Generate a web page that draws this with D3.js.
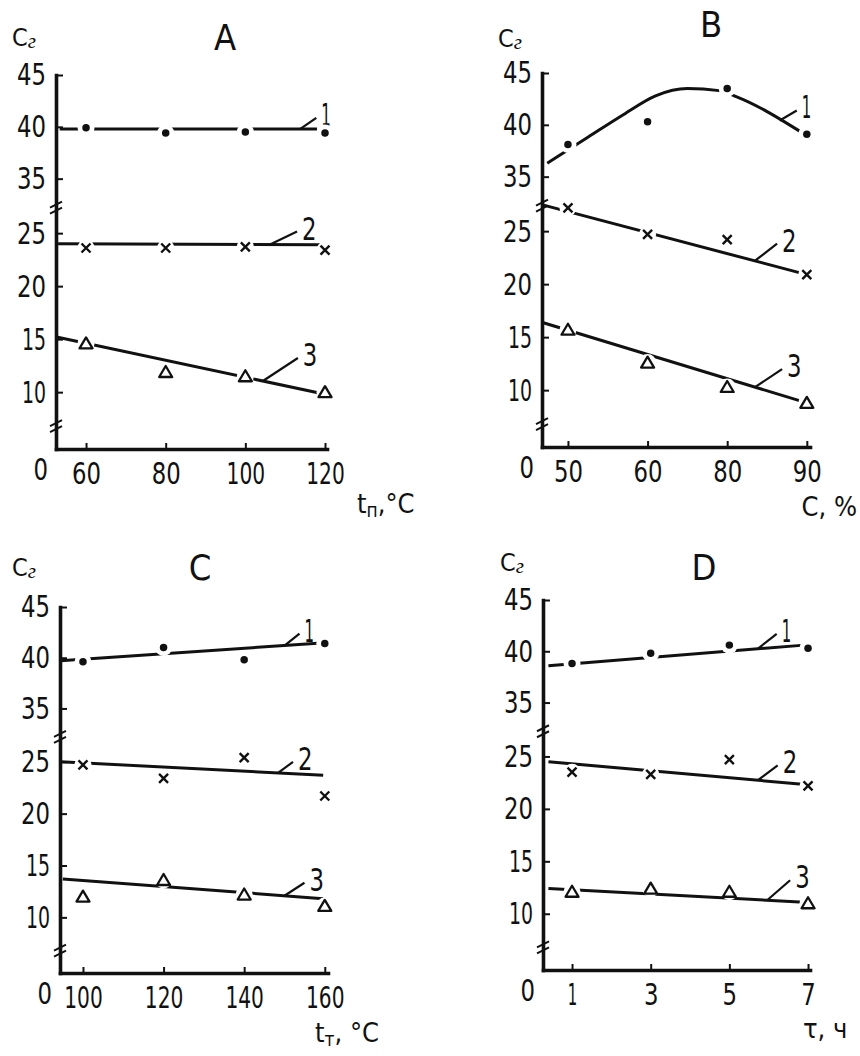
<!DOCTYPE html>
<html>
<head>
<meta charset="utf-8">
<script src="https://cdn.jsdelivr.net/npm/d3@7"></script>
<style>
  body { margin: 0; background: #fff; }
  svg text { font-family: "Liberation Sans Narrow", "DejaVu Sans Condensed", "DejaVu Sans", sans-serif; fill: #111; }
</style>
</head>
<body>
<svg id="fig" width="860" height="1056"></svg>
<script>
// y axis: 0, (break), 10..25, (break), 35..45
const yTicks = [10, 15, 20, 25, 35, 40, 45];
const yBreakDomain = [0, 7, 27.5, 32.3, 45];
const yBreakFrac = [0, 0.067, 0.648, 0.648, 1];

// x categories (equally spaced in the original)
const xTicksA = ["60", "80", "100", "120"];
const xTicksB = ["50", "60", "80", "90"];
const xTicksC = ["100", "120", "140", "160"];
const xTicksD = ["1", "3", "5", "7"];

// measured points: 1 = dots, 2 = crosses, 3 = triangles
const a1 = [39.9, 39.4, 39.5, 39.4];
const a2 = [23.6, 23.6, 23.7, 23.4];
const a3 = [14.6, 11.9, 11.5, 10.0];
const b1 = [38.1, 40.3, 43.5, 39.1];
const b2 = [27.2, 24.7, 24.2, 20.9];
const b3 = [15.7, 12.6, 10.3, 8.8];
const c1 = [39.6, 41.0, 39.8, 41.4];
const c2 = [24.7, 23.4, 25.4, 21.7];
const c3 = [12.0, 13.6, 12.2, 11.1];
const d1 = [38.8, 39.8, 40.6, 40.3];
const d2 = [23.5, 23.3, 24.7, 22.2];
const d3v = [12.1, 12.4, 12.1, 11.0];

// drawn trend lines, [category index, value]
const fitA1 = [[-0.33, 39.8], [2.9, 39.8]];
const fitA2 = [[-0.35, 24.0], [2.95, 23.9]];
const fitA3 = [[-0.37, 15.2], [3.0, 9.8]];
const fitB1 = [[-0.26, 36.3], [0.25, 38.8], [0.7, 41.0], [1.1, 42.8], [1.5, 43.5], [1.9, 43.3], [2.12, 42.7], [2.95, 39.2]];
const fitB2 = [[-0.33, 27.6], [3.0, 20.9]];
const fitB3 = [[-0.33, 16.4], [3.0, 8.8]];
const fitC1 = [[-0.28, 39.7], [3.05, 41.5]];
const fitC2 = [[-0.28, 25.0], [2.98, 23.7]];
const fitC3 = [[-0.25, 13.7], [2.98, 11.8]];
const fitD1 = [[-0.3, 38.6], [2.95, 40.6]];
const fitD2 = [[-0.3, 24.5], [3.0, 22.3]];
const fitD3 = [[-0.3, 12.4], [2.95, 11.1]];

const seriesNames = ["1", "2", "3"];
const markerKinds = ["dot", "cross", "tri"];

const panels = [
  { title: "A", ticks: xTicksA, series: [a1, a2, a3], fits: [fitA1, fitA2, fitA3],
    x0: 56, xEnd: 327, iStart: -0.377, iEnd: 3.025, y0: 449, span: 374,
    titlePos: [225, 50], cPos: [12, 46], xLabel: { parts: [["t", 0], ["п", 1], [",°C", 0]], x: 357, y: 513, anchor: "start" },
    leaders: [[2.69, 16, -11], [2.31, 27, -13], [2.22, 35, -23]] },
  { title: "B", ticks: xTicksB, series: [b1, b2, b3], fits: [fitB1, fitB2, fitB3],
    x0: 542, xEnd: 810, iStart: -0.326, iEnd: 3.04, y0: 447, span: 374,
    titlePos: [711, 37], cPos: [498, 47], xLabel: { parts: [["C, %", 0]], x: 857, y: 516, anchor: "end" },
    leaders: [[2.66, 17, -10], [2.35, 22, -17], [2.35, 27, -18]] },
  { title: "C", ticks: xTicksC, series: [c1, c2, c3], fits: [fitC1, fitC2, fitC3],
    x0: 60, xEnd: 328, iStart: -0.285, iEnd: 3.04, y0: 973, span: 366,
    titlePos: [200, 580], cPos: [12, 576], xLabel: { parts: [["t", 0], ["т", 1], [", °C", 0]], x: 315, y: 1042, anchor: "start" },
    leaders: [[2.5, 15, -12], [2.42, 15, -11], [2.5, 20, -13]] },
  { title: "D", ticks: xTicksD, series: [d1, d2, d3v], fits: [fitD1, fitD2, fitD3],
    x0: 543, xEnd: 810, iStart: -0.369, iEnd: 3.025, y0: 970, span: 370,
    titlePos: [704, 580], cPos: [500, 571], xLabel: { parts: [["τ, ч", 0]], x: 803, y: 1038, anchor: "start" },
    leaders: [[2.36, 19, -15], [2.36, 20, -15], [2.48, 23, -20]] }
];

// narrow lettering like the drafted original
const glyphW = (s) => Array.from(s).reduce((w, ch) => w + (ch === "1" ? 9.5 : 14.5), 0);
function squeeze(sel) {
  sel.each(function () {
    const t = this.textContent;
    d3.select(this).attr("textLength", glyphW(t)).attr("lengthAdjust", "spacingAndGlyphs");
  });
}

const svg = d3.select("#fig");
svg.append("rect").attr("width", 860).attr("height", 1056).attr("fill", "#fff");

function fitAt(fit, i) {
  for (let k = 0; k < fit.length - 1; k++) {
    const [i0, v0] = fit[k], [i1, v1] = fit[k + 1];
    if (i >= i0 && i <= i1) return v0 + (v1 - v0) * (i - i0) / (i1 - i0);
  }
  return fit[fit.length - 1][1];
}

panels.forEach((p) => {
  const g = svg.append("g");
  const y = d3.scaleLinear().domain(yBreakDomain).range(yBreakFrac.map((f) => p.y0 - f * p.span));
  const x = d3.scaleLinear().domain([p.iStart, p.iEnd]).range([p.x0, p.xEnd]);

  // trend lines
  const line = d3.line().x((d) => x(d[0])).y((d) => y(d[1])).curve(d3.curveMonotoneX);
  g.selectAll("path.fit")
    .data(p.fits)
    .join("path")
    .attr("class", "fit")
    .attr("d", line)
    .attr("fill", "none")
    .attr("stroke", "#111")
    .attr("stroke-width", 3);

  // leaders + series numbers
  p.leaders.forEach(([li, dx, dy], s) => {
    const sx = x(li), sy = y(fitAt(p.fits[s], li));
    g.append("line")
      .attr("x1", sx).attr("y1", sy)
      .attr("x2", sx + dx).attr("y2", sy + dy)
      .attr("stroke", "#111").attr("stroke-width", 2.2);
    g.append("text")
      .attr("x", sx + dx + 5)
      .attr("y", sy + dy + 8)
      .attr("font-size", 32)
      .text(seriesNames[s])
      .call(squeeze);
  });

  // white gaps around the markers, then markers
  p.series.forEach((vals, s) => {
    const pts = vals.map((v, i) => [x(i), y(v)]);
    g.selectAll(null).data(pts).join("circle")
      .attr("cx", (d) => d[0]).attr("cy", (d) => d[1])
      .attr("r", 8.5).attr("fill", "#fff");
    const kind = markerKinds[s];
    const m = g.selectAll(null).data(pts).join("path")
      .attr("transform", (d) => `translate(${d[0]},${d[1]})`);
    if (kind === "dot") {
      m.attr("d", d3.symbol(d3.symbolCircle, 44)).attr("fill", "#111");
    } else if (kind === "cross") {
      m.attr("d", "M-4.5,-4.5L4.5,4.5M-4.5,4.5L4.5,-4.5")
        .attr("stroke", "#111").attr("stroke-width", 2.4).attr("fill", "none");
    } else {
      m.attr("d", "M0,-6L6.5,5L-6.5,5Z")
        .attr("stroke", "#111").attr("stroke-width", 2.3).attr("fill", "#fff")
        .attr("stroke-linejoin", "round");
    }
  });

  // axes
  const yAxis = g.append("g")
    .attr("transform", `translate(${p.x0},0)`)
    .call(d3.axisLeft(y).tickValues(yTicks).tickSize(-7).tickSizeOuter(0).tickPadding(10));
  const xAxis = g.append("g")
    .attr("transform", `translate(0,${p.y0})`)
    .call(d3.axisBottom(x).tickValues([0, 1, 2, 3]).tickFormat((i) => p.ticks[i])
      .tickSize(-6).tickSizeOuter(0).tickPadding(13));
  [yAxis, xAxis].forEach((ax) => {
    ax.select(".domain").attr("stroke", "#111").attr("stroke-width", 3.6).attr("stroke-linecap", "square");
    ax.selectAll(".tick line").attr("stroke", "#111").attr("stroke-width", 2);
    ax.selectAll(".tick text").attr("font-size", 31).attr("fill", "#111")
      .style("font-family", '"Liberation Sans Narrow", "DejaVu Sans Condensed", "DejaVu Sans", sans-serif')
      .call(squeeze);
  });

  // axis breaks
  [yBreakFrac[1] * 0.95, yBreakFrac[2]].forEach((f) => {
    const yb = p.y0 - f * p.span;
    [-2, 4].forEach((o) => {
      g.append("line")
        .attr("x1", p.x0 - 6).attr("y1", yb + o + 3)
        .attr("x2", p.x0 + 6).attr("y2", yb + o - 3)
        .attr("stroke", "#111").attr("stroke-width", 2);
    });
  });

  // zero at the corner
  g.append("text")
    .attr("x", p.x0 - 8).attr("y", p.y0 + 31)
    .attr("text-anchor", "end").attr("font-size", 31)
    .text("0")
    .call(squeeze);

  // panel letter
  g.append("text")
    .attr("x", p.titlePos[0]).attr("y", p.titlePos[1])
    .attr("text-anchor", "middle").attr("font-size", 36)
    .text(p.title);

  // y label C with subscript
  const cy = g.append("text").attr("x", p.cPos[0]).attr("y", p.cPos[1]).attr("font-size", 25);
  cy.append("tspan").text("C");
  cy.append("tspan").attr("dy", 2).attr("font-size", 21)
    .style("font-family", '"Liberation Serif", serif').style("font-style", "italic").text("г");

  // x label
  const xl = g.append("text").attr("x", p.xLabel.x).attr("y", p.xLabel.y)
    .attr("text-anchor", p.xLabel.anchor).attr("font-size", 27);
  let shift = 0;
  p.xLabel.parts.forEach(([txt, sub]) => {
    const want = sub ? 4 : 0;
    xl.append("tspan").attr("dy", want - shift).attr("font-size", sub ? 19 : 27).text(txt);
    shift = want;
  });
});
</script>
</body>
</html>
